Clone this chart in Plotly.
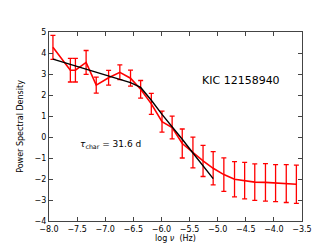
import plotly.graph_objects as go

# Data
log_nu = [-7.93, -7.62, -7.53, -7.34, -7.16, -6.94, -6.74, -6.55, -6.37, -6.18,
          -5.99, -5.81, -5.63, -5.44, -5.26, -5.08, -4.89, -4.70, -4.52, -4.34,
          -4.15, -3.97, -3.78, -3.60]
psd = [4.27, 3.18, 3.18, 3.55, 2.47, 2.82, 3.08, 2.80, 2.27, 1.58,
       0.73, 0.45, -0.31, -0.74, -1.14, -1.49, -1.79, -2.01, -2.08, -2.15,
       -2.16, -2.20, -2.22, -2.25]
psd_err = [0.57, 0.56, 0.56, 0.57, 0.38, 0.35, 0.35, 0.38, 0.42, 0.50,
           0.50, 0.54, 0.69, 0.73, 0.74, 0.79, 0.80, 0.84, 0.87, 0.87,
           0.89, 0.88, 0.90, 0.91]

model_x = [-7.93, -7.62, -7.53, -7.34, -7.16, -6.94, -6.74, -6.55, -6.37, -6.18,
           -5.99, -5.81, -5.63, -5.44, -5.26, -5.08]
model_y = [3.71, 3.46, 3.39, 3.23, 3.09, 2.91, 2.76, 2.59, 2.36, 1.75,
           1.08, 0.50, -0.11, -0.76, -1.37, -1.98]

x_ticks = [-8.0, -7.5, -7.0, -6.5, -6.0, -5.5, -5.0, -4.5, -4.0, -3.5]
y_ticks = [-4, -3, -2, -1, 0, 1, 2, 3, 4, 5]

fig = go.Figure()
fig.add_trace(go.Scatter(
    x=log_nu, y=psd, mode="lines",
    line=dict(color="#ff0000", width=1.6),
    error_y=dict(type="data", array=psd_err, visible=True,
                 color="#ff0000", thickness=1.3, width=2.5),
    showlegend=False))
fig.add_trace(go.Scatter(
    x=model_x, y=model_y, mode="lines",
    line=dict(color="#000000", width=1.4),
    showlegend=False))

axis_common = dict(
    showgrid=False, zeroline=False, showline=True, mirror="ticks",
    linecolor="#444444", linewidth=1, ticks="inside", ticklen=4,
    tickcolor="#444444", tickwidth=1,
    tickfont=dict(family="DejaVu Sans", size=8, color="#000000"),
)

fig.update_layout(
    width=327, height=245,
    margin=dict(l=41, r=33, t=24, b=25),
    paper_bgcolor="white", plot_bgcolor="white",
    xaxis=dict(range=[-8, -3.5], tickvals=x_ticks, tickformat=".1f",
               title=dict(text="log <i>ν</i>  (Hz)", standoff=2,
                          font=dict(family="DejaVu Sans", size=8, color="#000000")),
               **axis_common),
    yaxis=dict(range=[-4, 5], tickvals=y_ticks,
               title=dict(text="Power Spectral Density", standoff=9,
                          font=dict(family="DejaVu Sans", size=8, color="#000000")),
               **axis_common),
    annotations=[
        dict(x=-4.59, y=2.67, xref="x", yref="y", text="KIC 12158940",
             showarrow=False, font=dict(family="DejaVu Sans", size=11, color="#000000")),
        dict(x=-7.48, y=-0.37, xref="x", yref="y", xanchor="left",
             text="<i>τ</i><sub>char</sub> = 31.6 d", showarrow=False,
             font=dict(family="DejaVu Sans", size=9, color="#000000")),
    ],
)

fig.write_html("out.html")
